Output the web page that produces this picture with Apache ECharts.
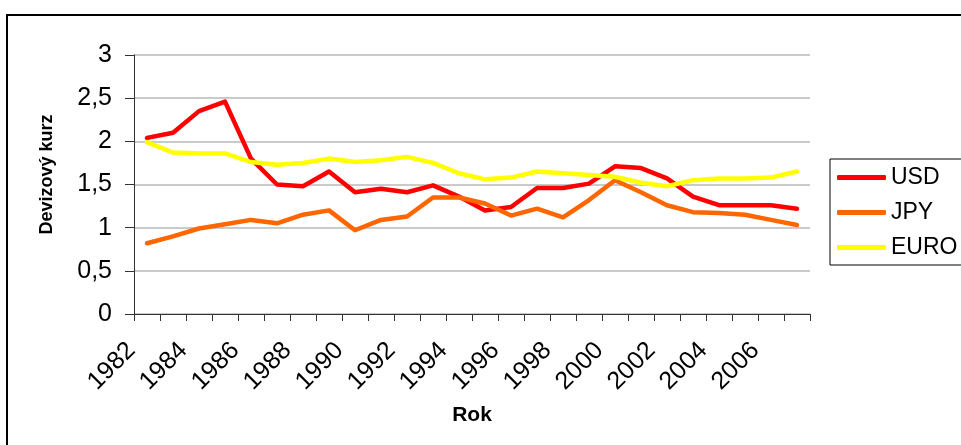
<!DOCTYPE html>
<html>
<head>
<meta charset="utf-8">
<script src="https://cdn.jsdelivr.net/npm/echarts@6/dist/echarts.min.js"></script>
<style>
html,body{margin:0;padding:0;background:#fff;}
#chart{width:961px;height:445px;}
</style>
</head>
<body>
<div id="chart"></div>
<script>
const years = ['1982','1983','1984','1985','1986','1987','1988','1989','1990','1991','1992','1993','1994','1995','1996','1997','1998','1999','2000','2001','2002','2003','2004','2005','2006','2007'];
const usd  = [2.04,2.10,2.35,2.46,1.80,1.50,1.48,1.65,1.41,1.45,1.41,1.49,1.36,1.20,1.24,1.46,1.46,1.51,1.71,1.69,1.57,1.36,1.26,1.26,1.26,1.22];
const jpy  = [0.82,0.90,0.99,1.04,1.09,1.05,1.15,1.20,0.97,1.09,1.13,1.35,1.35,1.28,1.14,1.22,1.12,1.32,1.55,1.41,1.26,1.18,1.17,1.15,1.09,1.03];
const euro = [1.99,1.87,1.86,1.86,1.76,1.73,1.75,1.80,1.76,1.78,1.82,1.75,1.63,1.56,1.58,1.65,1.63,1.61,1.59,1.52,1.48,1.55,1.57,1.57,1.58,1.65];
const seriesNames = ['USD','JPY','EURO'];
const yTitle = 'Devizový kurz';
const xTitle = 'Rok';

const font = '"Liberation Sans", Arial, sans-serif';
const chart = echarts.init(document.getElementById('chart'), null, {renderer:'canvas'});
const colors = ['#FF0000','#FF6600','#FFFF00'];
const dataSets = [usd, jpy, euro];

chart.setOption({
  animation:false,
  backgroundColor:'#ffffff',
  textStyle:{fontFamily:font},
  color: colors,
  grid:{left:134, right:151, top:55, bottom:131, containLabel:false},
  graphic:[{
    type:'rect', shape:{x:7, y:15, width:1000, height:500},
    style:{fill:'none', stroke:'#000', lineWidth:2}, silent:true, z:-1
  }],
  legend:{
    orient:'vertical', left:830, top:159,
    borderColor:'#000', borderWidth:1,
    padding:[7,7,6,7], itemGap:12,
    itemWidth:49, itemHeight:5, icon:'roundRect',
    textStyle:{fontSize:23, color:'#000', fontFamily:font, lineHeight:23},
    data: seriesNames
  },
  xAxis:{
    type:'category', data:years, boundaryGap:true,
    name:xTitle, nameLocation:'middle', nameGap:91,
    nameTextStyle:{fontSize:21, fontWeight:'bold', color:'#000', fontFamily:font},
    axisLine:{lineStyle:{color:'#333', width:1}},
    axisTick:{show:true, interval:0, length:7, lineStyle:{color:'#333'}},
    axisLabel:{interval:1, rotate:45, fontSize:25, color:'#000', margin:17, padding:[0,22,0,0], fontFamily:font},
    splitLine:{show:false}
  },
  yAxis:{
    type:'value', min:0, max:3, interval:0.5,
    name:yTitle, nameLocation:'middle', nameGap:78, nameRotate:90,
    nameTextStyle:{fontSize:18, fontWeight:'bold', color:'#000', fontFamily:font, padding:[0,0,0,20]},
    axisLine:{show:true, lineStyle:{color:'#333', width:1}},
    axisTick:{show:true, length:9, lineStyle:{color:'#333'}},
    axisLabel:{fontSize:25, color:'#000', margin:22, fontFamily:font,
      formatter:function(v){return String(v).replace('.',',');}},
    splitLine:{show:true, lineStyle:{color:'#b8b8b8', width:1.5}}
  },
  series: seriesNames.map(function(n,i){
    return {name:n, type:'line', data:dataSets[i], symbol:'none',
      lineStyle:{width:4.5, color:colors[i], cap:'round', join:'round'},
      itemStyle:{color:colors[i]}};
  })
});
</script>
</body>
</html>
